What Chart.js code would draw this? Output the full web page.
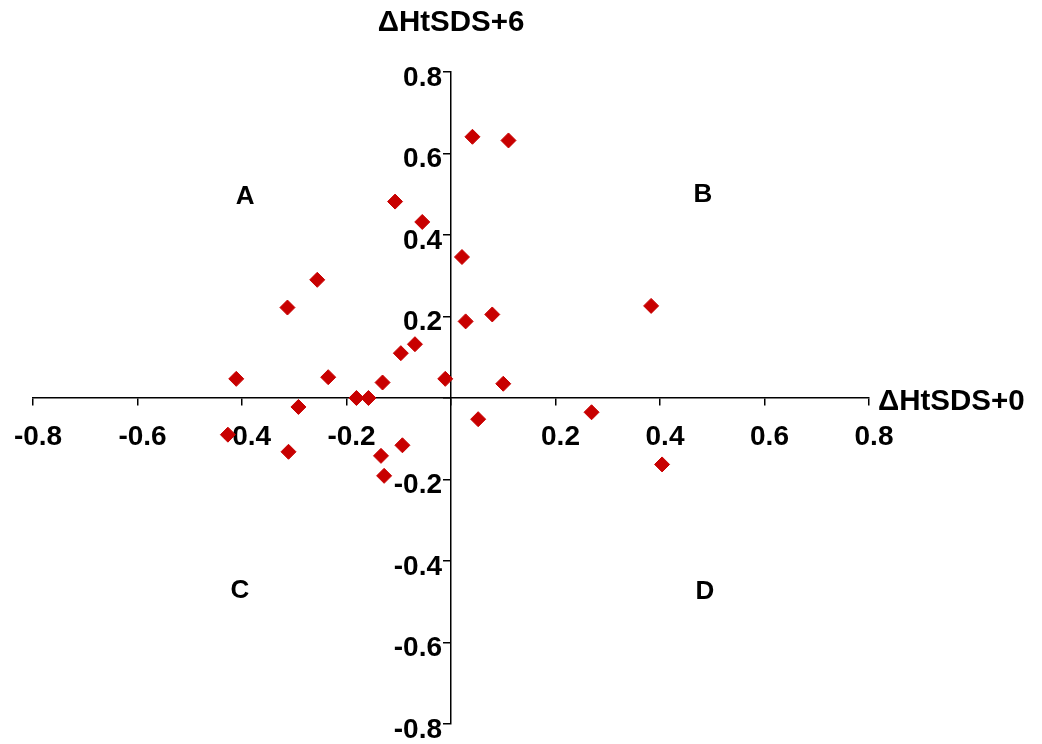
<!DOCTYPE html>
<html>
<head>
<meta charset="utf-8">
<script src="https://cdn.jsdelivr.net/npm/chart.js@4.4.1/dist/chart.umd.min.js"></script>
<style>
html,body{margin:0;padding:0;background:#ffffff;}
#wrap{width:1042px;height:744px;}
</style>
</head>
<body>
<div id="wrap"><canvas id="c" width="1042" height="744"></canvas></div>
<script>
// ---- data ----
const xValues = [0.041, 0.110, -0.107, -0.055, 0.021, -0.256, -0.313, 0.383, 0.079, 0.028,
                 -0.069, -0.096, -0.411, -0.235, -0.131, -0.011, 0.100, -0.181, -0.158, -0.292,
                 0.052, 0.269, -0.427, -0.093, -0.311, -0.134, -0.128, 0.404];
const yValues = [0.641, 0.632, 0.482, 0.432, 0.346, 0.290, 0.222, 0.226, 0.205, 0.188,
                 0.132, 0.110, 0.047, 0.051, 0.038, 0.047, 0.035, 0.000, 0.000, -0.022,
                 -0.052, -0.035, -0.090, -0.116, -0.132, -0.142, -0.191, -0.163];
const tickValues = [-0.8, -0.6, -0.4, -0.2, 0, 0.2, 0.4, 0.6, 0.8];
const tickLabels = ['-0.8', '-0.6', '-0.4', '-0.2', '', '0.2', '0.4', '0.6', '0.8'];
const xTitle = 'ΔHtSDS+0';
const yTitle = 'ΔHtSDS+6';
const quadLabels = ['A', 'B', 'C', 'D'];
const quadX = [-0.394, 0.482, -0.404, 0.486];
const quadY = [0.494, 0.499, -0.474, -0.476];

const points = xValues.map((v, i) => ({x: v, y: yValues[i]}));
const FONT = '"Liberation Sans", Arial, Helvetica, sans-serif';

function labelFor(value) {
  const idx = tickValues.findIndex(t => Math.abs(t - value) < 1e-9);
  return idx >= 0 ? tickLabels[idx] : '';
}

const textPlugin = {
  id: 'texts',
  afterDraw(chart) {
    const {ctx, chartArea} = chart;
    const xs = chart.scales.x, ys = chart.scales.y;
    const axisX = xs.getPixelForValue(0);
    ctx.save();
    ctx.fillStyle = '#000';
    // y-axis tick labels (left of the centred axis)
    ctx.font = 'bold 28px ' + FONT;
    ctx.textAlign = 'right';
    ctx.textBaseline = 'middle';
    tickValues.forEach((v, i) => {
      if (!tickLabels[i]) return;
      ctx.fillText(tickLabels[i], axisX - 9, ys.getPixelForValue(v) + 6);
    });
    // axis titles
    ctx.font = 'bold 29.5px ' + FONT;
    ctx.textAlign = 'center';
    ctx.fillText(yTitle, axisX, chartArea.top - 49);
    ctx.textAlign = 'left';
    ctx.fillText(xTitle, chartArea.right + 9, ys.getPixelForValue(0) + 4);
    // quadrant letters
    ctx.font = 'bold 26px ' + FONT;
    ctx.textAlign = 'center';
    quadLabels.forEach((t, i) => {
      ctx.fillText(t, xs.getPixelForValue(quadX[i]), ys.getPixelForValue(quadY[i]));
    });
    ctx.restore();
  }
};

new Chart(document.getElementById('c'), {
  type: 'scatter',
  data: {
    datasets: [{
      data: points,
      pointStyle: 'rectRot',
      pointRadius: 7.5,
      pointHoverRadius: 7.5,
      backgroundColor: '#C80000',
      borderColor: '#C80000',
      borderWidth: 1
    }]
  },
  options: {
    responsive: false,
    animation: false,
    devicePixelRatio: 1,
    layout: {padding: {left: 33, right: 173, top: 72, bottom: 20}},
    plugins: {legend: {display: false}, tooltip: {enabled: false}},
    scales: {
      x: {
        type: 'linear',
        min: -0.8, max: 0.8,
        position: {y: 0},
        afterFit(scale) { scale.height = 0; },
        afterBuildTicks(scale) { scale.ticks = tickValues.map(v => ({value: v})); },
        grid: {drawOnChartArea: false, drawTicks: true, tickLength: 7, color: '#000', lineWidth: 1.5},
        border: {display: true, color: '#000', width: 1.5},
        ticks: {
          callback: (v) => labelFor(v),
          font: {family: FONT, size: 28, weight: 'bold', lineHeight: 1.93},
          color: '#000',
          padding: 5,
          labelOffset: 5,
          maxRotation: 0,
          autoSkip: false
        }
      },
      y: {
        type: 'linear',
        min: -0.8, max: 0.8,
        position: {x: 0},
        afterFit(scale) { scale.width = 0; },
        afterBuildTicks(scale) { scale.ticks = tickValues.map(v => ({value: v})); },
        grid: {drawOnChartArea: false, drawTicks: true, tickLength: 7, color: '#000', lineWidth: 1.5},
        border: {display: true, color: '#000', width: 1.5},
        ticks: {display: false, padding: 0}
      }
    }
  },
  plugins: [textPlugin]
});
</script>
</body>
</html>
